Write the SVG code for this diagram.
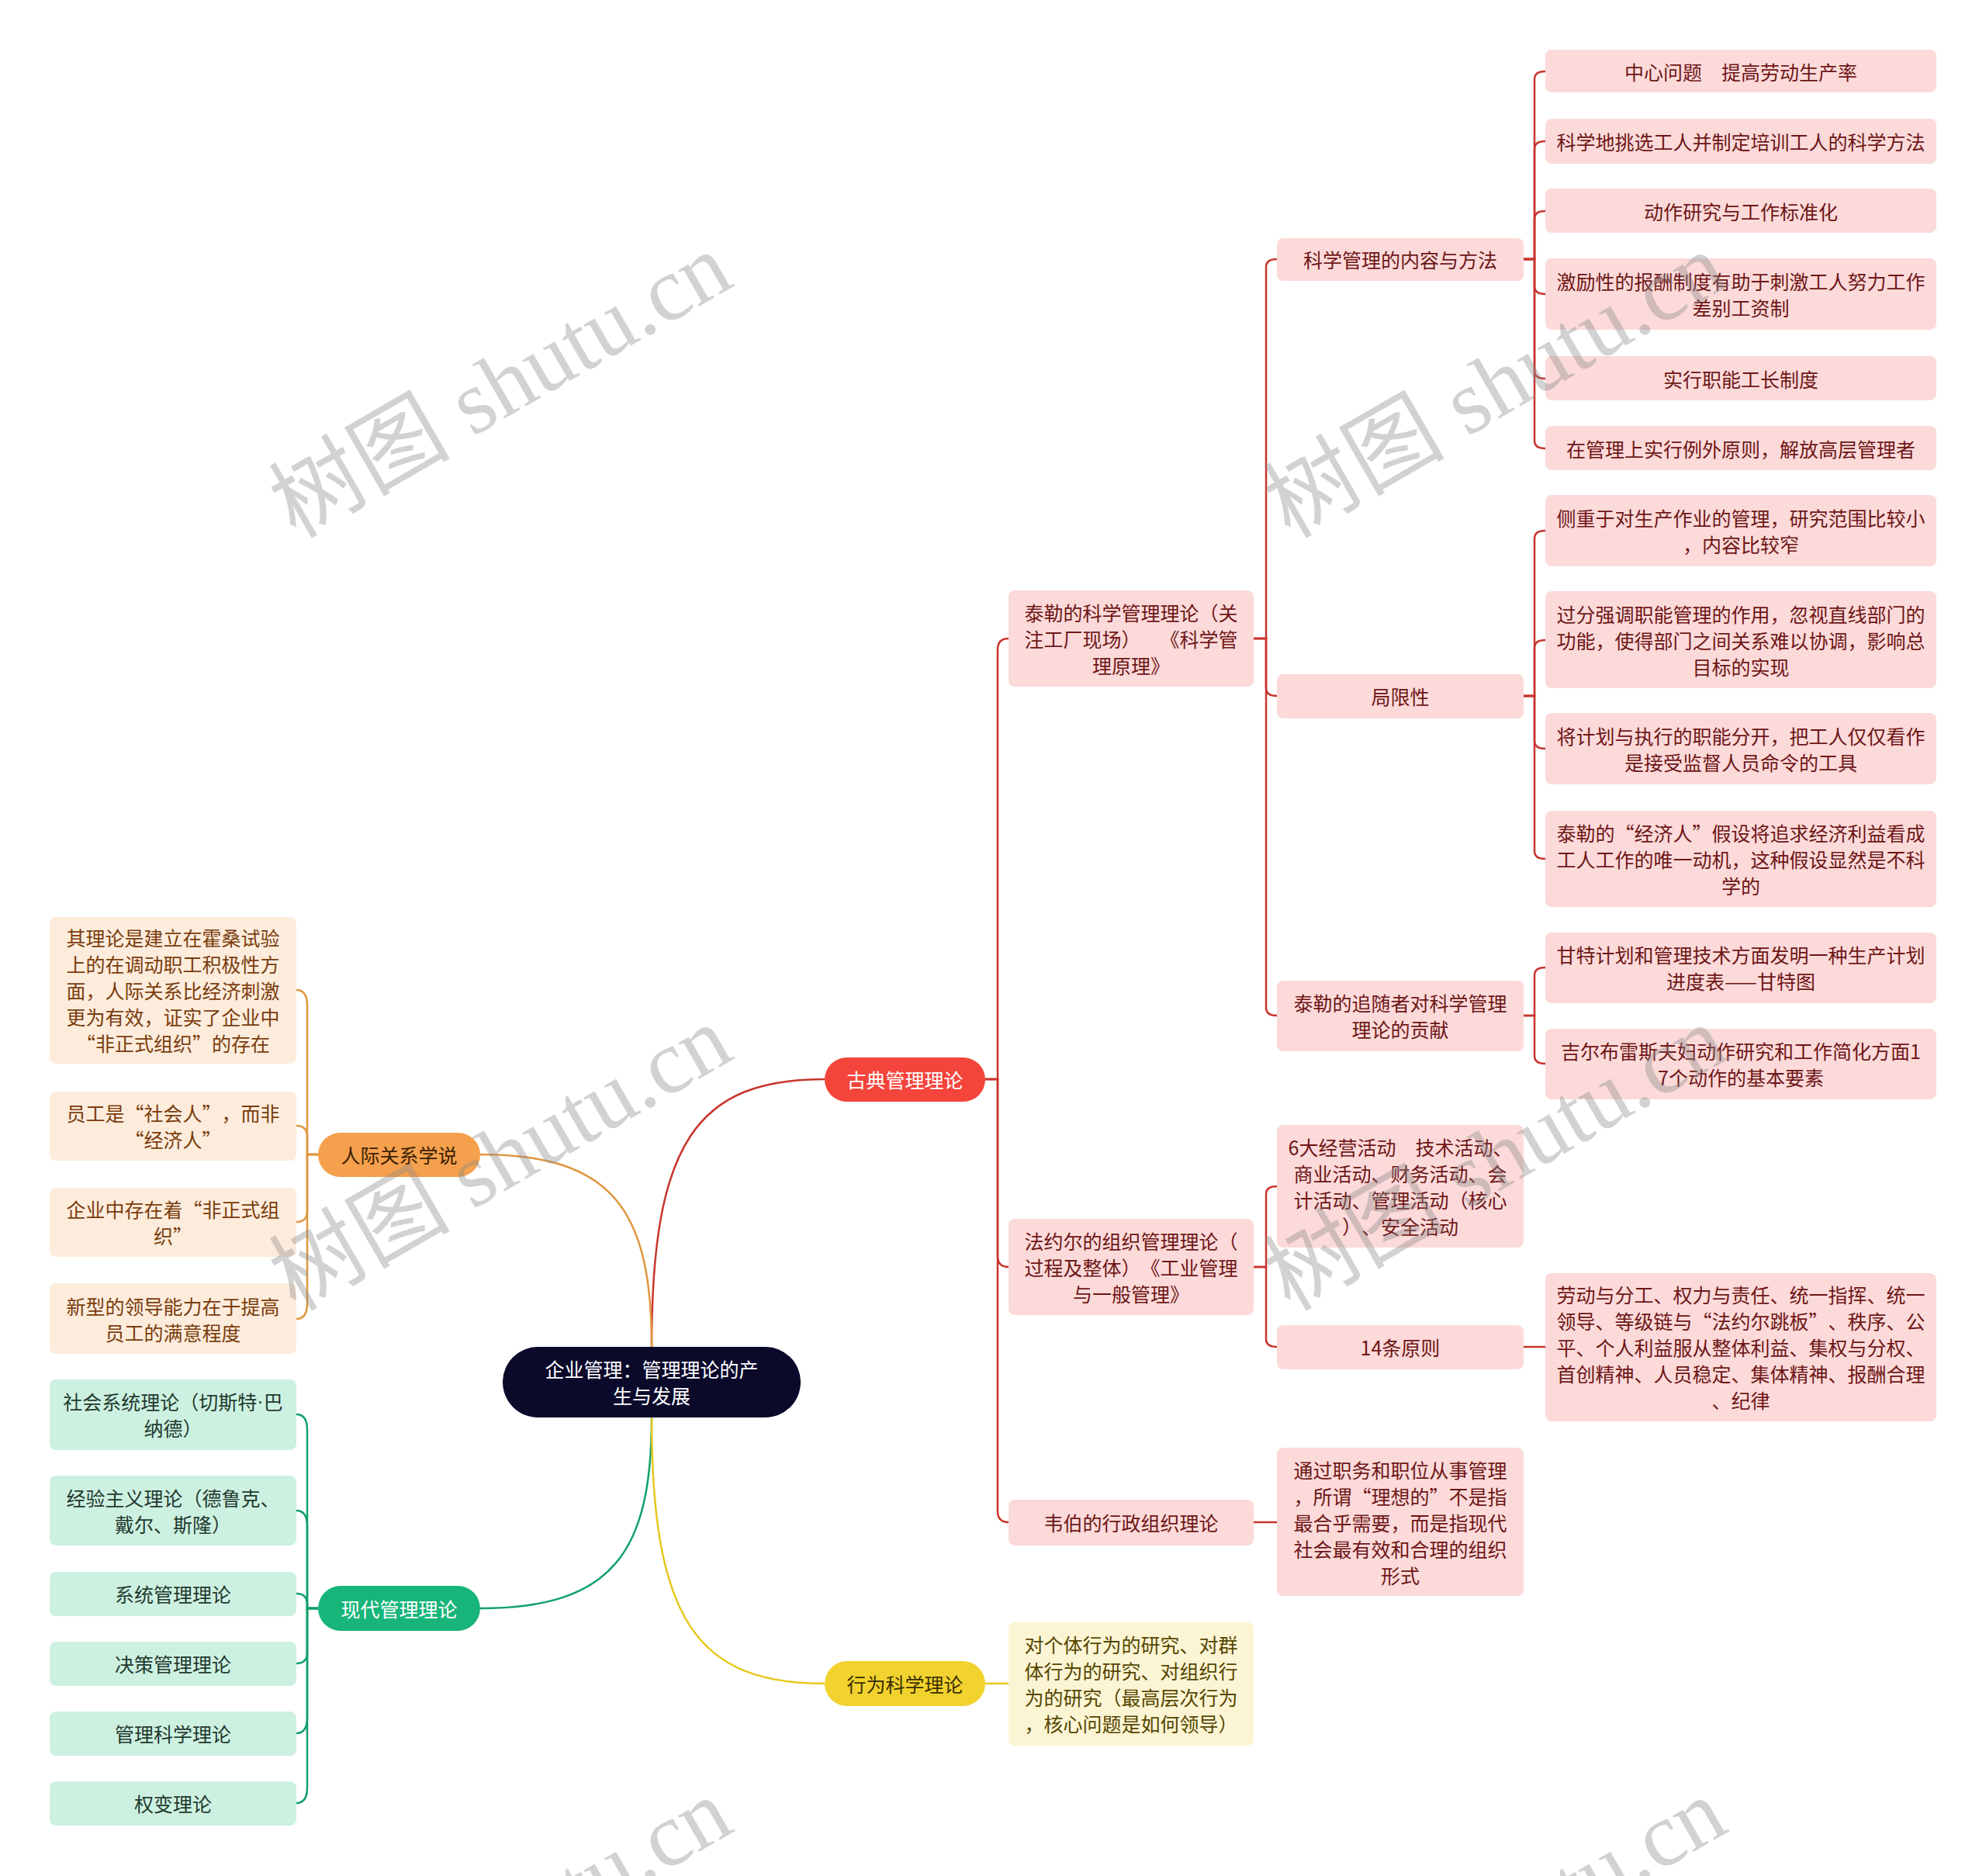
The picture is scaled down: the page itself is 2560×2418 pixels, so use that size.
<svg xmlns="http://www.w3.org/2000/svg" width="2560" height="2418" viewBox="0 0 2560 2418">
<style>
text{font-family:"Noto Sans CJK SC","Noto Sans",sans-serif;font-size:25px;text-anchor:middle;dominant-baseline:central;text-spacing-trim:space-all}
.pk rect{fill:#fcdada}
.pk text{fill:#6e1616}
.og rect{fill:#fdecdc}
.og text{fill:#7a3c0c}
.gr rect{fill:#cdf1e1}
.gr text{fill:#23392f}
.yl rect{fill:#fcf5d4}
.yl text{fill:#564600}
.dot{font-family:"Liberation Sans",sans-serif}
.c-red{fill:none;stroke:#c8352d;stroke-width:2.5}
.c-org{fill:none;stroke:#e0963e;stroke-width:2.5}
.c-grn{fill:none;stroke:#12a06a;stroke-width:2.5}
.c-yel{fill:none;stroke:#e6c81e;stroke-width:2.5}
.wm{font-family:"Liberation Serif","Noto Sans CJK SC",serif;font-size:117px;fill:#8a8a8a;opacity:0.38;dominant-baseline:alphabetic}
</style>
<rect width="2560" height="2418" fill="#ffffff"/>

<g id="connectors">
  <path class="c-red" d="M840,1736 C840,1470 900,1391 1063,1391" stroke-width="3"/>
  <path class="c-org" d="M840,1736 C840,1560 790,1488 619,1488" stroke-width="3"/>
  <path class="c-grn" d="M840,1827 C840,2000 790,2073 619,2073" stroke-width="3"/>
  <path class="c-yel" d="M840,1827 C840,2090 900,2170 1063,2170" stroke-width="3"/>
  <path class="c-red" d="M1270,1391 H1286 V837 Q1286,823 1300,823"/>
  <path class="c-red" d="M1270,1391 H1286 V1619 Q1286,1633 1300,1633"/>
  <path class="c-red" d="M1270,1391 H1286 V1948 Q1286,1962 1300,1962"/>
  <path class="c-red" d="M1616,823 H1632 V344 Q1632,334 1646,334"/>
  <path class="c-red" d="M1616,823 H1632 V887 Q1632,897 1646,897"/>
  <path class="c-red" d="M1616,823 H1632 V1299 Q1632,1309 1646,1309"/>
  <path class="c-red" d="M1964,334 H1978 V102 Q1978,92 1992,92"/>
  <path class="c-red" d="M1964,334 H1978 V192 Q1978,182 1992,182"/>
  <path class="c-red" d="M1964,334 H1978 V282 Q1978,272 1992,272"/>
  <path class="c-red" d="M1964,334 H1978 V369 Q1978,379 1992,379"/>
  <path class="c-red" d="M1964,334 H1978 V478 Q1978,488 1992,488"/>
  <path class="c-red" d="M1964,334 H1978 V568 Q1978,578 1992,578"/>
  <path class="c-red" d="M1964,897 H1978 V694 Q1978,684 1992,684"/>
  <path class="c-red" d="M1964,897 H1978 V835 Q1978,825 1992,825"/>
  <path class="c-red" d="M1964,897 H1978 V955 Q1978,965 1992,965"/>
  <path class="c-red" d="M1964,897 H1978 V1097 Q1978,1107 1992,1107"/>
  <path class="c-red" d="M1964,1309 H1978 V1257 Q1978,1247 1992,1247"/>
  <path class="c-red" d="M1964,1309 H1978 V1361 Q1978,1371 1992,1371"/>
  <path class="c-red" d="M1616,1633 H1632 V1539 Q1632,1529 1646,1529"/>
  <path class="c-red" d="M1616,1633 H1632 V1726 Q1632,1736 1646,1736"/>
  <path class="c-red" d="M1964,1736 H1992"/>
  <path class="c-red" d="M1616,1962 H1646"/>
  <path class="c-yel" d="M1270,2170 H1300"/>
  <path class="c-org" d="M410,1488 H396 V1296 Q396,1276 382,1276"/>
  <path class="c-org" d="M410,1488 H396 V1465 Q396,1451 382,1451"/>
  <path class="c-org" d="M410,1488 H396 V1561 Q396,1575 382,1575"/>
  <path class="c-org" d="M410,1488 H396 V1680 Q396,1700 382,1700"/>
  <path class="c-grn" d="M410,2073 H396 V1843 Q396,1823 382,1823"/>
  <path class="c-grn" d="M410,2073 H396 V1967 Q396,1947 382,1947"/>
  <path class="c-grn" d="M410,2073 H396 V2068 Q396,2054 382,2054"/>
  <path class="c-grn" d="M410,2073 H396 V2130 Q396,2144 382,2144"/>
  <path class="c-grn" d="M410,2073 H396 V2214 Q396,2234 382,2234"/>
  <path class="c-grn" d="M410,2073 H396 V2304 Q396,2324 382,2324"/>
</g>

<g id="center">
  <rect x="648" y="1736" width="384" height="91" rx="45.5" fill="#0b0a2b"/>
  <text fill="#ffffff"><tspan x="840" y="1764">企业管理：管理理论的产</tspan><tspan x="840" y="1798">生与发展</tspan></text>
</g>

<g id="n-gudian">
  <rect x="1063" y="1363" width="207" height="57" rx="28.5" fill="#f4453c"/>
  <text fill="#ffffff" x="1166.5" y="1391">古典管理理论</text>
</g>
<g id="n-renji">
  <rect x="410" y="1460" width="209" height="57" rx="28.5" fill="#f5a04c"/>
  <text fill="#3a2004" x="514.5" y="1488">人际关系学说</text>
</g>
<g id="n-xiandai">
  <rect x="410" y="2044" width="209" height="58" rx="29" fill="#17b57a"/>
  <text fill="#ffffff" x="514.5" y="2073">现代管理理论</text>
</g>
<g id="n-xingwei">
  <rect x="1063" y="2141" width="207" height="58" rx="29" fill="#f1d22e"/>
  <text fill="#3d3000" x="1166.5" y="2170">行为科学理论</text>
</g>

<g id="n-taile" class="pk">
  <rect x="1300" y="761" width="316" height="124" rx="8"/>
  <text><tspan x="1458" y="789">泰勒的科学管理理论（关</tspan><tspan x="1458" y="823">注工厂现场）　《科学管</tspan><tspan x="1458" y="857">理原理》</tspan></text>
</g>
<g id="n-fayueer" class="pk">
  <rect x="1300" y="1571" width="316" height="124" rx="8"/>
  <text><tspan x="1458" y="1599">法约尔的组织管理理论（</tspan><tspan x="1458" y="1633">过程及整体）《工业管理</tspan><tspan x="1458" y="1667">与一般管理》</tspan></text>
</g>
<g id="n-weibo" class="pk">
  <rect x="1300" y="1933" width="316" height="59" rx="8"/>
  <text x="1458" y="1962">韦伯的行政组织理论</text>
</g>

<g id="n-neirong" class="pk">
  <rect x="1646" y="307" width="318" height="55" rx="8"/>
  <text x="1805" y="334">科学管理的内容与方法</text>
</g>
<g id="n-juxian" class="pk">
  <rect x="1646" y="869" width="318" height="57" rx="8"/>
  <text x="1805" y="897">局限性</text>
</g>
<g id="n-zhuisui" class="pk">
  <rect x="1646" y="1264" width="318" height="91" rx="8"/>
  <text><tspan x="1805" y="1292">泰勒的追随者对科学管理</tspan><tspan x="1805" y="1326">理论的贡献</tspan></text>
</g>
<g id="n-6da" class="pk">
  <rect x="1646" y="1450" width="318" height="158" rx="8"/>
  <text><tspan x="1805" y="1478">6大经营活动　技术活动、</tspan><tspan x="1805" y="1512">商业活动、财务活动、会</tspan><tspan x="1805" y="1546">计活动、管理活动（核心</tspan><tspan x="1805" y="1580">）、安全活动</tspan></text>
</g>
<g id="n-14tiao" class="pk">
  <rect x="1646" y="1708" width="318" height="57" rx="8"/>
  <text x="1805" y="1736">14条原则</text>
</g>
<g id="n-zhiwu" class="pk">
  <rect x="1646" y="1866" width="318" height="191" rx="8"/>
  <text><tspan x="1805" y="1894">通过职务和职位从事管理</tspan><tspan x="1805" y="1928">，所谓“理想的”不是指</tspan><tspan x="1805" y="1962">最合乎需要，而是指现代</tspan><tspan x="1805" y="1996">社会最有效和合理的组织</tspan><tspan x="1805" y="2030">形式</tspan></text>
</g>

<g id="l1" class="pk"><rect x="1992" y="64" width="504" height="55" rx="8"/><text x="2244" y="92">中心问题　提高劳动生产率</text></g>
<g id="l2" class="pk"><rect x="1992" y="153" width="504" height="58" rx="8"/><text x="2244" y="182">科学地挑选工人并制定培训工人的科学方法</text></g>
<g id="l3" class="pk"><rect x="1992" y="243" width="504" height="57" rx="8"/><text x="2244" y="272">动作研究与工作标准化</text></g>
<g id="l4" class="pk"><rect x="1992" y="333" width="504" height="92" rx="8"/><text><tspan x="2244" y="362">激励性的报酬制度有助于刺激工人努力工作</tspan><tspan x="2244" y="396">差别工资制</tspan></text></g>
<g id="l5" class="pk"><rect x="1992" y="459" width="504" height="57" rx="8"/><text x="2244" y="488">实行职能工长制度</text></g>
<g id="l6" class="pk"><rect x="1992" y="549" width="504" height="57" rx="8"/><text x="2244" y="578">在管理上实行例外原则，解放高层管理者</text></g>
<g id="l7" class="pk"><rect x="1992" y="638" width="504" height="92" rx="8"/><text><tspan x="2244" y="667">侧重于对生产作业的管理，研究范围比较小</tspan><tspan x="2244" y="701">，内容比较窄</tspan></text></g>
<g id="l8" class="pk"><rect x="1992" y="762" width="504" height="125" rx="8"/><text><tspan x="2244" y="791">过分强调职能管理的作用，忽视直线部门的</tspan><tspan x="2244" y="825">功能，使得部门之间关系难以协调，影响总</tspan><tspan x="2244" y="859">目标的实现</tspan></text></g>
<g id="l9" class="pk"><rect x="1992" y="919" width="504" height="92" rx="8"/><text><tspan x="2244" y="948">将计划与执行的职能分开，把工人仅仅看作</tspan><tspan x="2244" y="982">是接受监督人员命令的工具</tspan></text></g>
<g id="l10" class="pk"><rect x="1992" y="1045" width="504" height="124" rx="8"/><text><tspan x="2244" y="1073">泰勒的“经济人”假设将追求经济利益看成</tspan><tspan x="2244" y="1107">工人工作的唯一动机，这种假设显然是不科</tspan><tspan x="2244" y="1141">学的</tspan></text></g>
<g id="l11" class="pk"><rect x="1992" y="1202" width="504" height="91" rx="8"/><text><tspan x="2244" y="1230">甘特计划和管理技术方面发明一种生产计划</tspan><tspan x="2244" y="1264">进度表——甘特图</tspan></text></g>
<g id="l12" class="pk"><rect x="1992" y="1326" width="504" height="91" rx="8"/><text><tspan x="2244" y="1354">吉尔布雷斯夫妇动作研究和工作简化方面1</tspan><tspan x="2244" y="1388">7个动作的基本要素</tspan></text></g>
<g id="l13" class="pk"><rect x="1992" y="1641" width="504" height="191" rx="8"/><text><tspan x="2244" y="1668">劳动与分工、权力与责任、统一指挥、统一</tspan><tspan x="2244" y="1702">领导、等级链与“法约尔跳板”、秩序、公</tspan><tspan x="2244" y="1736">平、个人利益服从整体利益、集权与分权、</tspan><tspan x="2244" y="1770">首创精神、人员稳定、集体精神、报酬合理</tspan><tspan x="2244" y="1804">、纪律</tspan></text></g>

<g id="y1" class="yl">
  <rect x="1300" y="2091" width="316" height="159" rx="8"/>
  <text><tspan x="1458" y="2119">对个体行为的研究、对群</tspan><tspan x="1458" y="2153">体行为的研究、对组织行</tspan><tspan x="1458" y="2187">为的研究（最高层次行为</tspan><tspan x="1458" y="2221">，核心问题是如何领导）</tspan></text>
</g>

<g id="o1" class="og">
  <rect x="64" y="1182" width="318" height="189" rx="8"/>
  <text><tspan x="223" y="1208">其理论是建立在霍桑试验</tspan><tspan x="223" y="1242">上的在调动职工积极性方</tspan><tspan x="223" y="1276">面，人际关系比经济刺激</tspan><tspan x="223" y="1310">更为有效，证实了企业中</tspan><tspan x="223" y="1344">“非正式组织”的存在</tspan></text>
</g>
<g id="o2" class="og">
  <rect x="64" y="1407" width="318" height="89" rx="8"/>
  <text><tspan x="223" y="1434">员工是“社会人”，而非</tspan><tspan x="223" y="1468">“经济人”</tspan></text>
</g>
<g id="o3" class="og">
  <rect x="64" y="1531" width="318" height="89" rx="8"/>
  <text><tspan x="223" y="1558">企业中存在着“非正式组</tspan><tspan x="223" y="1592">织”</tspan></text>
</g>
<g id="o4" class="og">
  <rect x="64" y="1654" width="318" height="91" rx="8"/>
  <text><tspan x="223" y="1683">新型的领导能力在于提高</tspan><tspan x="223" y="1717">员工的满意程度</tspan></text>
</g>

<g id="g1" class="gr">
  <rect x="64" y="1778" width="318" height="91" rx="8"/>
  <text><tspan x="223" y="1806">社会系统理论（切斯特<tspan class="dot">·</tspan>巴</tspan><tspan x="223" y="1840">纳德）</tspan></text>
</g>
<g id="g2" class="gr">
  <rect x="64" y="1902" width="318" height="90" rx="8"/>
  <text><tspan x="223" y="1930">经验主义理论（德鲁克、</tspan><tspan x="223" y="1964">戴尔、斯隆）</tspan></text>
</g>
<g id="g3" class="gr"><rect x="64" y="2026" width="318" height="57" rx="8"/><text x="223" y="2054">系统管理理论</text></g>
<g id="g4" class="gr"><rect x="64" y="2116" width="318" height="57" rx="8"/><text x="223" y="2144">决策管理理论</text></g>
<g id="g5" class="gr"><rect x="64" y="2206" width="318" height="57" rx="8"/><text x="223" y="2234">管理科学理论</text></g>
<g id="g6" class="gr"><rect x="64" y="2296" width="318" height="57" rx="8"/><text x="223" y="2324">权变理论</text></g>

<g id="watermarks">
  <text class="wm" transform="translate(665,531) rotate(-30)">树图 shutu.cn</text>
  <text class="wm" transform="translate(1947,531) rotate(-30)">树图 shutu.cn</text>
  <text class="wm" transform="translate(665,1527) rotate(-30)">树图 shutu.cn</text>
  <text class="wm" transform="translate(1947,1527) rotate(-30)">树图 shutu.cn</text>
  <text class="wm" transform="translate(665,2523) rotate(-30)">树图 shutu.cn</text>
  <text class="wm" transform="translate(1947,2523) rotate(-30)">树图 shutu.cn</text>
</g>
</svg>
